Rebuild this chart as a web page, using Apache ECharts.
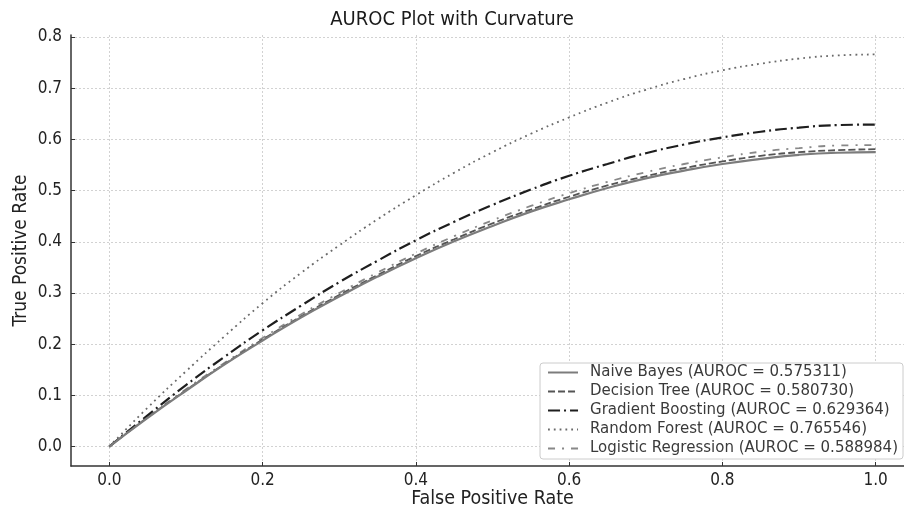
<!DOCTYPE html>
<html>
<head>
<meta charset="utf-8">
<script src="https://cdn.jsdelivr.net/npm/echarts@6/dist/echarts.min.js"></script>
<style>
html,body{margin:0;padding:0;background:#fff;}
#chart{width:904px;height:507px;}
</style>
</head>
<body>
<div id="chart"></div>
<script>
const fpr = [0,0.05,0.1,0.15,0.2,0.25,0.3,0.35,0.4,0.45,0.5,0.55,0.6,0.65,0.7,0.75,0.8,0.85,0.9,0.95,1.0];
const naiveBayes = [0,0.056,0.109,0.160,0.207,0.252,0.293,0.332,0.368,0.401,0.431,0.459,0.483,0.505,0.524,0.539,0.552,0.562,0.570,0.574,0.575];
const decisionTree = [0,0.057,0.110,0.161,0.209,0.254,0.296,0.335,0.372,0.405,0.436,0.463,0.488,0.510,0.528,0.544,0.557,0.568,0.575,0.579,0.581];
const gradientBoosting = [0,0.061,0.120,0.175,0.227,0.275,0.321,0.363,0.403,0.439,0.472,0.502,0.529,0.552,0.573,0.590,0.604,0.615,0.623,0.628,0.629];
const randomForest = [0,0.076,0.147,0.215,0.280,0.339,0.393,0.444,0.491,0.535,0.575,0.611,0.643,0.672,0.697,0.718,0.735,0.748,0.758,0.764,0.766];
const logisticRegression = [0,0.057,0.112,0.163,0.212,0.258,0.300,0.340,0.377,0.411,0.442,0.470,0.495,0.517,0.536,0.552,0.565,0.576,0.583,0.588,0.589];
const seriesNames = [
  'Naive Bayes (AUROC = 0.575311)',
  'Decision Tree (AUROC = 0.580730)',
  'Gradient Boosting (AUROC = 0.629364)',
  'Random Forest (AUROC = 0.765546)',
  'Logistic Regression (AUROC = 0.588984)'
];
const xTicks = [0,0.2,0.4,0.6,0.8,1.0];
const yTicks = [0,0.1,0.2,0.3,0.4,0.5,0.6,0.7,0.8];

const condensed = "'DejaVu Sans Condensed','Liberation Sans Narrow','DejaVu Sans',sans-serif";
const regular = "'DejaVu Sans',sans-serif";

function pairs(ys){ return fpr.map((x,i)=>[x,ys[i]]); }

const styles = [
  {color:'#7c7c7c', width:2.2, type:'solid'},
  {color:'#555555', width:1.8, type:[7,3]},
  {color:'#1e1e1e', width:2.2, type:[12,4,2,4]},
  {color:'#6a6a6a', width:1.8, type:[1.8,4]},
  {color:'#888888', width:1.8, type:[7,7,2,7]}
];
const allData = [naiveBayes, decisionTree, gradientBoosting, randomForest, logisticRegression];

const chart = echarts.init(document.getElementById('chart'), null, {renderer:'canvas'});
chart.setOption({
  animation:false,
  backgroundColor:'#fff',
  title:{
    text:'AUROC Plot with Curvature',
    left:'center', top:5,
    textStyle:{fontFamily:condensed, fontSize:20, fontWeight:'normal', color:'#1a1a1a'}
  },
  legend:{
    orient:'vertical',
    right:1, bottom:48,
    backgroundColor:'#fff',
    borderColor:'#cccccc', borderWidth:1, borderRadius:3,
    padding:[2,5,3,7],
    itemWidth:30, itemHeight:14, itemGap:4,
    itemStyle:{opacity:0},
    textStyle:{fontFamily:regular, fontSize:15, color:'#3a3a3a', lineHeight:15, padding:[0,0,0,7]},
    data:seriesNames
  },
  grid:{left:71, right:-10, top:35, bottom:41, containLabel:false, outerBoundsMode:'none'},
  xAxis:{
    type:'value', min:-0.05, max:1.05,
    name:'False Positive Rate', nameLocation:'middle', nameGap:22.5, nameMoveOverlap:false,
    nameTextStyle:{fontFamily:condensed, fontSize:19.5, color:'#222'},
    axisLine:{show:true, onZero:false, lineStyle:{color:'#333', width:1.5}},
    axisTick:{show:true, inside:true, length:4, customValues:xTicks, lineStyle:{color:'#333'}},
    axisLabel:{customValues:xTicks, fontFamily:condensed, fontSize:17, color:'#222', margin:6,
      formatter:v=>v.toFixed(1)},
    splitLine:{show:true, lineStyle:{color:'#d2d2d2', type:[2,2], width:1}}
  },
  yAxis:{
    type:'value', min:-0.038, max:0.804,
    name:'True Positive Rate', nameLocation:'middle', nameGap:40, nameMoveOverlap:false,
    nameTextStyle:{fontFamily:condensed, fontSize:19, color:'#222'},
    axisLine:{show:true, onZero:false, lineStyle:{color:'#333', width:1.5}},
    axisTick:{show:true, inside:true, length:4, customValues:yTicks, lineStyle:{color:'#333'}},
    axisLabel:{customValues:yTicks, fontFamily:condensed, fontSize:17, color:'#222', margin:9,
      formatter:v=>v.toFixed(1)},
    splitLine:{show:true, lineStyle:{color:'#d2d2d2', type:[2,2], width:1}}
  },
  series: seriesNames.map((name,i)=>({
    name:name, type:'line', data:pairs(allData[i]), smooth:true, symbol:'none',
    color:styles[i].color,
    lineStyle:{color:styles[i].color, width:styles[i].width, type:styles[i].type},
    z: 10-i
  }))
});
</script>
</body>
</html>
